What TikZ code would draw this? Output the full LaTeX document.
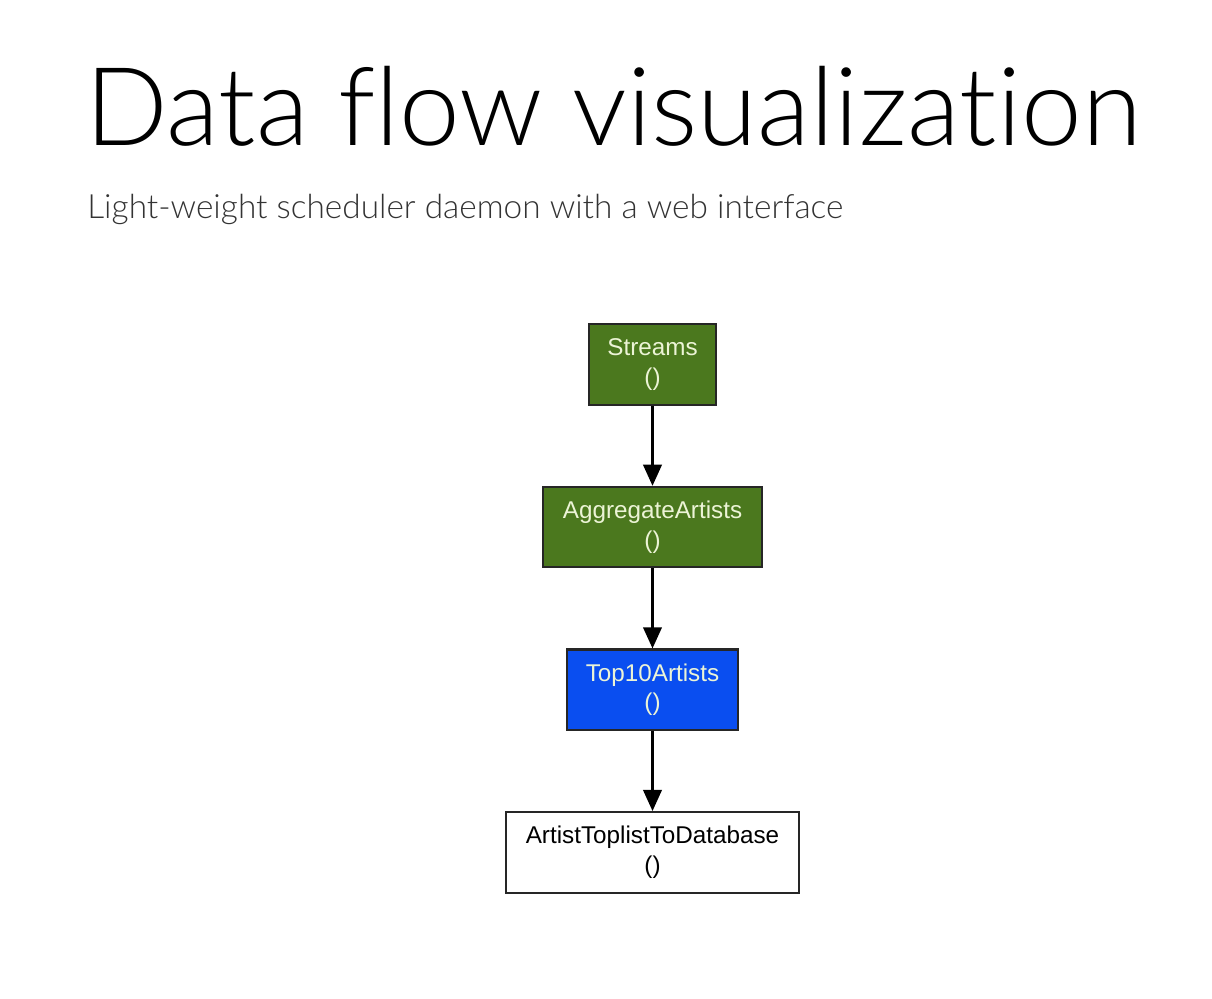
\documentclass[tikz,border=0pt]{standalone}
\usepackage{fontspec}
\setmainfont{Liberation Sans}
\newfontfamily\slidefont{Lato}[UprightFont=* Light, Ligatures=NoCommon]
\usetikzlibrary{positioning,arrows.meta}

\definecolor{taskgreen}{RGB}{75,120,30}
\definecolor{taskblue}{RGB}{10,78,240}
\definecolor{tasktext}{RGB}{236,244,214}

\tikzset{
	task/.style={rectangle, draw=black!85, line width=1.2pt, minimum height=1.61cm, align=center, font=\fontsize{13.8}{17}\selectfont, inner sep=0pt},
	done/.style={task, fill=taskgreen, text=tasktext},
	running/.style={task, fill=taskblue, text=tasktext},
	pending/.style={task, fill=white, text=black},
	flow/.style={-{Triangle[length=12pt,width=10.5pt]}, line width=1.4pt}
}

\begin{document}
\begin{tikzpicture}[node distance=1.6cm]
			\useasboundingbox (0,0) rectangle (24.24,-19.96);
			\fill[white] (0,0) rectangle (24.24,-19.96);
			
			% Define title and subtitle
			\node (title) [anchor=base west, inner sep=0pt, font=\slidefont\fontsize{62}{66}\selectfont] at (1.7,-2.9) {Data flow visualization};
			\node (subtitle) [anchor=base west, inner sep=0pt, text=black!80, font=\slidefont\fontsize{19}{23}\selectfont] at (1.74,-4.36) {Light-weight scheduler daemon with a web interface};
			
			% Define tasks
			\node (streams) [done, minimum width=2.54cm] at (13.05,-7.29) {Streams\\()};
			\node (aggregate) [done, minimum width=4.38cm, below=of streams] {AggregateArtists\\()};
			\node (top10) [running, minimum width=3.42cm, below=of aggregate] {Top10Artists\\()};
			\node (toplist) [pending, minimum width=5.86cm, below=of top10] {ArtistToplistToDatabase\\()};
			
			% Draw dependencies
			\draw[flow] (streams) -- (aggregate);
			\draw[flow] (aggregate) -- (top10);
			\draw[flow] (top10) -- (toplist);
			
		\end{tikzpicture}
\end{document}
